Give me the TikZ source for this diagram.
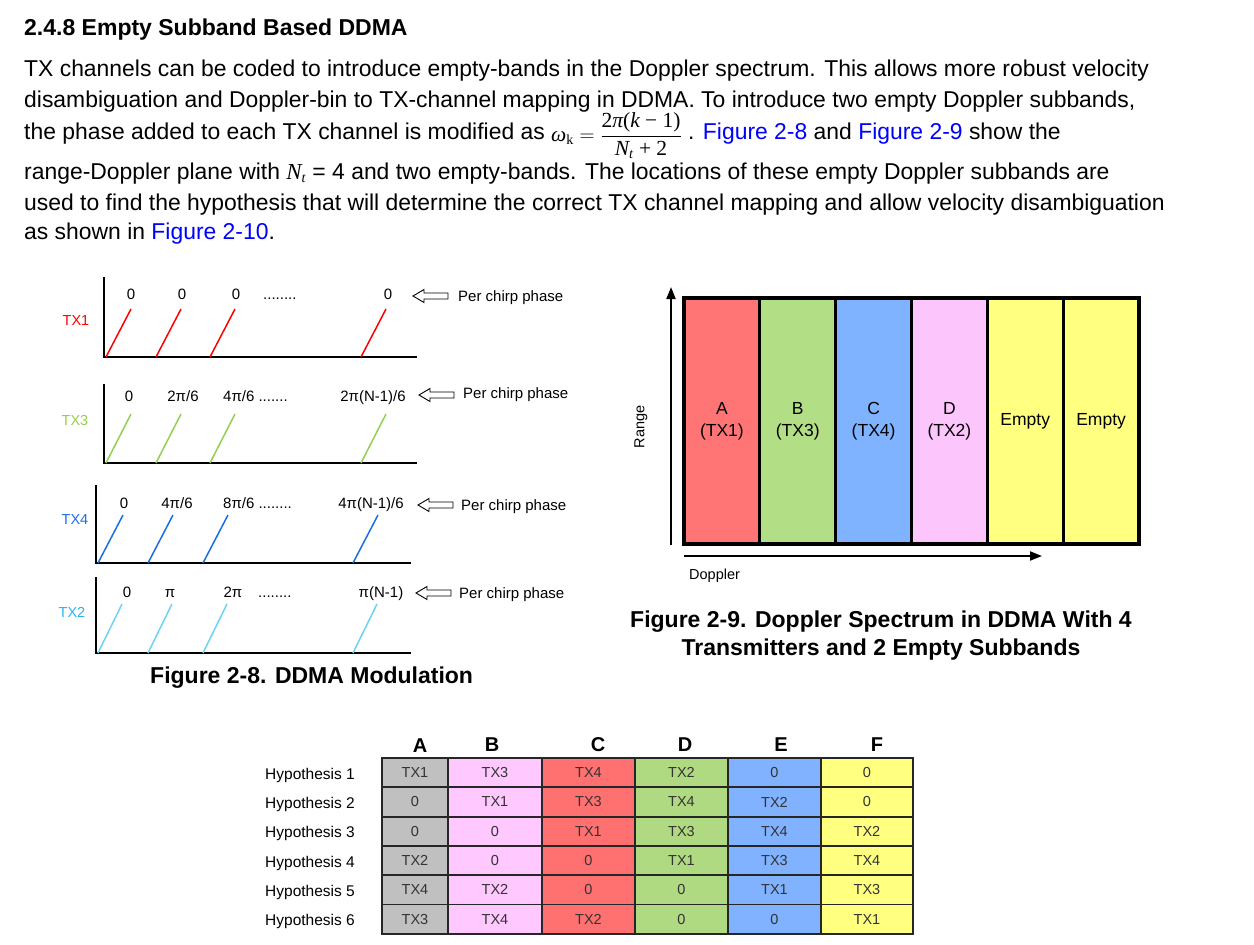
\documentclass[tikz,border=0pt]{standalone}
\usepackage[no-math]{fontspec}
\setmainfont{Liberation Sans}
\newfontfamily\eqfont{Liberation Serif}
\newcommand{\eqit}[1]{{\eqfont\itshape #1}}
\newcommand{\eqNt}{\hbox{\eqit{N}}_{\hbox{\fontsize{14}{16}\selectfont\eqit{t}}}}
\usetikzlibrary{arrows.meta}

\definecolor{linkblue}{RGB}{0,0,255}
\definecolor{txred}{RGB}{255,0,0}
\definecolor{txgreen}{RGB}{146,208,80}
\definecolor{txblue}{RGB}{25,110,230}
\definecolor{txcyan}{RGB}{110,210,240}
\definecolor{txcyanlbl}{RGB}{40,180,240}
\definecolor{bandA}{RGB}{255,117,117}
\definecolor{bandB}{RGB}{178,222,133}
\definecolor{bandC}{RGB}{128,179,255}
\definecolor{bandD}{RGB}{252,197,252}
\definecolor{bandE}{RGB}{255,255,128}
\definecolor{cell1}{RGB}{192,192,192}
\definecolor{cell2}{RGB}{255,200,255}
\definecolor{cell3}{RGB}{255,112,112}
\definecolor{cell4}{RGB}{176,218,130}
\definecolor{cell5}{RGB}{128,178,255}
\definecolor{cell6}{RGB}{255,255,128}

\begin{document}
\begin{tikzpicture}
  [x=1pt, y=-1pt,
   txt/.style={anchor=base west, inner sep=0pt, font=\fontsize{22.9}{28}\selectfont},
   capt/.style={anchor=base, inner sep=0pt, font=\fontsize{23}{28}\selectfont\bfseries},
   lbl/.style={anchor=base, inner sep=0pt, font=\fontsize{15}{18}\selectfont},
   txlbl/.style={inner sep=0pt, font=\fontsize{14.5}{17}\selectfont},
   axis/.style={line width=2.6pt, black, line join=miter},
   ramp/.style={line width=1.5pt},
   band/.style={draw, line width=3.2pt, minimum width=75.83pt, minimum height=246pt,
                inner sep=0pt, align=center, font=\fontsize{17.5}{22}\selectfont},
   cell/.style={draw=black!85, line width=1.8pt, minimum height=29.3pt, inner sep=0pt,
                text=black!80, font=\fontsize{14.5}{17}\selectfont},
   hollowarr/.pic={\draw[line width=0.9pt, fill=white] (0,0) -- (11,-6.5) -- (11,-3)
                    -- (35,-3) -- (35,3) -- (11,3) -- (11,6.5) -- cycle;}]

  \useasboundingbox (0,0) rectangle (1254,945);

  % heading and text
  \node[txt, font=\fontsize{23}{28}\selectfont\bfseries] (hd) at (24,35) {2.4.8 Empty Subband Based DDMA};
  \node[txt] (l1) at (24,76) {TX channels can be coded to introduce empty-bands in the Doppler spectrum. This allows more robust velocity};
  \node[txt] (l2) at (24,107) {disambiguation and Doppler-bin to TX-channel mapping in DDMA. To introduce two empty Doppler subbands,};
  \node[txt] (l3) at (24,139) {the phase added to each TX channel is modified as
    \raisebox{-2.5pt}{\fontsize{21.5}{26}\selectfont$\hbox{\eqit{ω}}_{\hbox{\fontsize{14}{16}\selectfont\eqfont k}} =
    \displaystyle\frac{\hbox{\eqfont 2\eqit{π}(\eqit{k} − 1)}}{\hbox{\eqfont$\eqNt$ + 2}}$}
    . \textcolor{linkblue}{Figure 2-8} and \textcolor{linkblue}{Figure 2-9} show the};
  \node[txt] (l4) at (24,179) {range-Doppler plane with $\eqNt$ = 4 and two empty-bands. The locations of these empty Doppler subbands are};
  \node[txt] (l5) at (24,210) {used to find the hypothesis that will determine the correct TX channel mapping and allow velocity disambiguation};
  \node[txt] (l6) at (24,239) {as shown in \textcolor{linkblue}{Figure 2-10}.};

  % Figure 2-8: TX1
  \node[txlbl, text=txred] (tx1) at (76,321) {TX1};
  \draw[axis] (104,277) -- (104,357) -- (417,357);
  \foreach \s in {106,156,210,361}
    \draw[ramp, txred] (\s,357) -- ++(25,-48);
  \node[lbl] (p1a) at (131,299.5) {0};
  \node[lbl] (p1b) at (182,299.5) {0};
  \node[lbl] (p1c) at (236,299.5) {0};
  \node[lbl, anchor=base west] (p1d) at (263,299.5) {........};
  \node[lbl] (p1e) at (388,299.5) {0};
  \pic at (413,296) {hollowarr};
  \node[lbl, anchor=base west] (ph1) at (458,301) {Per chirp phase};

  % TX3
  \node[txlbl, text=txgreen] (tx3) at (75,421) {TX3};
  \draw[axis] (104,384) -- (104,463) -- (417,463);
  \foreach \s in {106,156,210,361}
    \draw[ramp, txgreen] (\s,463) -- ++(25,-49);
  \node[lbl] (p3a) at (129,401.5) {0};
  \node[lbl] (p3b) at (183,401.5) {2π/6};
  \node[lbl, anchor=base west] (p3c) at (223,401.5) {4π/6 .......};
  \node[lbl] (p3d) at (373,401.5) {2π(N-1)/6};
  \pic at (419,395) {hollowarr};
  \node[lbl, anchor=base west] (ph3) at (463,398) {Per chirp phase};

  % TX4
  \node[txlbl, text=txblue] (tx4) at (75,520) {TX4};
  \draw[axis] (96,485) -- (96,563) -- (411,563);
  \foreach \s in {98,148,203,353}
    \draw[ramp, txblue] (\s,563) -- ++(25,-48);
  \node[lbl] (p4a) at (124,508.5) {0};
  \node[lbl] (p4b) at (177,508.5) {4π/6};
  \node[lbl, anchor=base west] (p4c) at (223,508.5) {8π/6 ........};
  \node[lbl] (p4d) at (371,508.5) {4π(N-1)/6};
  \pic at (418,505) {hollowarr};
  \node[lbl, anchor=base west] (ph4) at (461,510) {Per chirp phase};

  % TX2
  \node[txlbl, text=txcyanlbl] (tx2) at (72,612) {TX2};
  \draw[axis] (96,577) -- (96,653) -- (411,653);
  \foreach \s in {98,148,203,353}
    \draw[ramp, txcyan] (\s,653) -- ++(24,-49);
  \node[lbl] (p2a) at (127,597.5) {0};
  \node[lbl] (p2b) at (170,597.5) {π};
  \node[lbl] (p2c) at (233,597.5) {2π};
  \node[lbl, anchor=base west] (p2d) at (258,597.5) {........};
  \node[lbl] (p2e) at (381,597.5) {π(N-1)};
  \pic at (416,593) {hollowarr};
  \node[lbl, anchor=base west] (ph2) at (459,598) {Per chirp phase};

  \node[capt, anchor=base west] (cap8) at (150,683) {Figure 2-8. DDMA Modulation};

  % Figure 2-9: Doppler spectrum
  \node[band, fill=bandA] (bA) at (721.9,421) {A\\(TX1)};
  \node[band, fill=bandB] (bB) at (797.7,421) {B\\(TX3)};
  \node[band, fill=bandC] (bC) at (873.6,421) {C\\(TX4)};
  \node[band, fill=bandD] (bD) at (949.4,421) {D\\(TX2)};
  \node[band, fill=bandE] (bE) at (1025.2,421) {Empty};
  \node[band, fill=bandE] (bF) at (1101.1,421) {Empty};

  \coordinate (rg0) at (671,545);
  \coordinate (rg1) at (671,287);
  \coordinate (dp0) at (684,556);
  \coordinate (dp1) at (1042,556);
  \draw[line width=1.8pt, -{Triangle[length=12pt, width=9pt]}] (rg0) -- (rg1);
  \draw[line width=1.8pt, -{Triangle[length=12pt, width=9pt]}] (dp0) -- (dp1);
  \node[txlbl, rotate=90] (rng) at (641,427) {Range};
  \node[txlbl, anchor=west] (dop) at (689,576) {Doppler};

  \node[capt] (cap9a) at (881,627) {Figure 2-9. Doppler Spectrum in DDMA With 4};
  \node[capt] (cap9b) at (881,655) {Transmitters and 2 Empty Subbands};

  % Figure 2-10: hypothesis table
  \node[font=\fontsize{20}{24}\selectfont\bfseries, inner sep=0pt] (hA) at (420,746) {A};
  \node[font=\fontsize{20}{24}\selectfont\bfseries, inner sep=0pt] (hB) at (492,745) {B};
  \node[font=\fontsize{20}{24}\selectfont\bfseries, inner sep=0pt] (hC) at (598,745) {C};
  \node[font=\fontsize{20}{24}\selectfont\bfseries, inner sep=0pt] (hD) at (685,745) {D};
  \node[font=\fontsize{20}{24}\selectfont\bfseries, inner sep=0pt] (hE) at (781,745) {E};
  \node[font=\fontsize{20}{24}\selectfont\bfseries, inner sep=0pt] (hF) at (877,745) {F};

  \foreach \row [count=\i] in {{TX1,TX3,TX4,TX2,0,0},{0,TX1,TX3,TX4,TX2,0},{0,0,TX1,TX3,TX4,TX2},
                              {TX2,0,0,TX1,TX3,TX4},{TX4,TX2,0,0,TX1,TX3},{TX3,TX4,TX2,0,0,TX1}}{
    \node[anchor=base west, inner sep=0pt, font=\fontsize{15.5}{18}\selectfont] (hy\i) at (265,{779.2+29.3*(\i-1)}) {Hypothesis \i};
    \foreach \v [count=\j] in \row {
      \pgfmathsetmacro{\cx}{{415,495,588.5,681.5,774.5,867}[\j-1]}
      \pgfmathsetmacro{\cw}{{66,94,93,93,93,92}[\j-1]}
      \node[cell, fill=cell\j, minimum width=\cw pt] (c\i\j) at (\cx,{772.7+29.3*(\i-1)}) {\v};
    }
  }

\end{tikzpicture}
\end{document}
